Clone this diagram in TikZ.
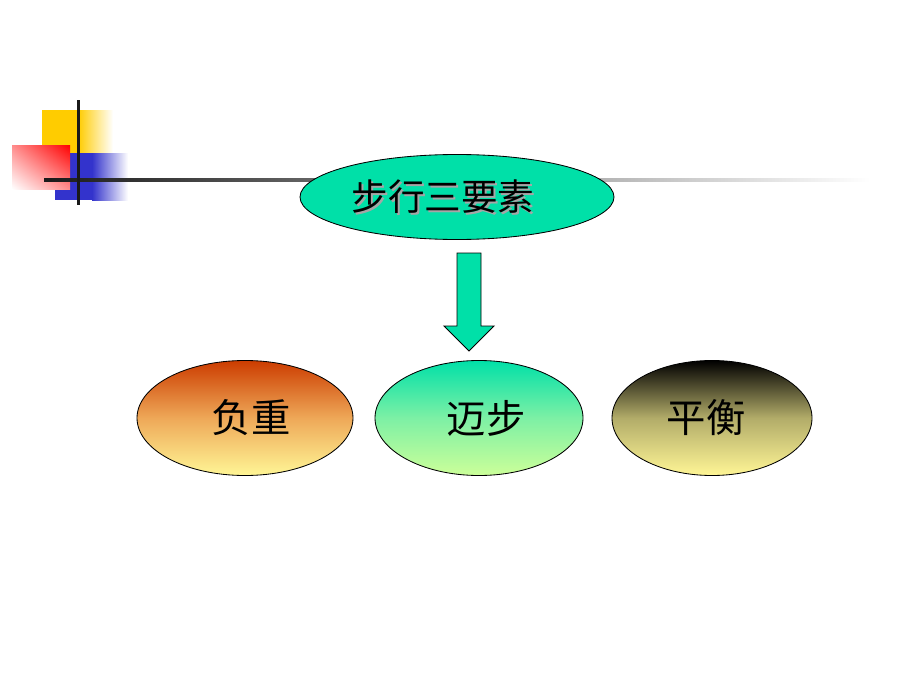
\documentclass[tikz,border=0pt]{standalone}
\usepackage{fontspec}
\usetikzlibrary{positioning}
\usetikzlibrary{shapes.geometric}
\usetikzlibrary{shadings}
\newfontfamily\cjk{Noto Sans CJK SC}
\definecolor{stepgreen}{RGB}{0,224,168}
\definecolor{rust}{RGB}{204,60,0}
\definecolor{paleyellow}{RGB}{255,246,150}
\definecolor{palegreen}{RGB}{204,255,153}
\definecolor{gold}{RGB}{255,204,0}
\definecolor{slateblue}{RGB}{51,51,204}
\tikzset{
	blob/.style={ellipse, draw=black, line width=0.6pt, inner sep=0pt},
	label text/.style={font=\cjk\fontsize{26}{26}\selectfont},
	big text/.style={font=\cjk\fontsize{28}{28}\selectfont},
}

\begin{document}
\begin{tikzpicture}[x=0.025cm, y=-0.025cm]
	\useasboundingbox[fill=white] (0, 0) rectangle (920, 690);
	
	% corner decoration
	\fill[gold] (42, 110) rectangle (78, 153);
	\shade[left color=gold, right color=white] (78, 110) rectangle (113, 153);
	\fill[slateblue] (55, 153) rectangle (92, 200);
	\shade[left color=slateblue, right color=white] (92, 153) rectangle (128, 200);
	\shade[upper right=red, upper left=red!45, lower left=white, lower right=red!45] (12, 145) rectangle (70, 189);
	\shade[left color=black!90, right color=white] (44, 178.5) rectangle (870, 181.5);
	\fill[black!90] (76.5, 100) rectangle (79.5, 205);
	
	\node[blob, fill=stepgreen, minimum width={314*0.025cm}, minimum height={85*0.025cm}] (walking) at (457, 197) {};
	\node[label text, text=black!35] at (445, 199) {步行三要素};
	\node[label text] (title) at (443, 197) {步行三要素};
	
	\node[blob, top color=rust, bottom color=paleyellow, middle color={rgb,255:red,238;green,168;blue,88}, minimum width={216*0.025cm}, minimum height={115*0.025cm}] (load) at (245, 418) {};
	\node[big text] at (251, 418) {负重};
	\node[blob, top color=stepgreen, bottom color=palegreen, middle color={rgb,255:red,125;green,240;blue,165}, minimum width={208*0.025cm}, minimum height={115*0.025cm}] (stride) at (479, 418) {};
	\node[big text] at (486, 418) {迈步};
	\node[blob, top color=black, bottom color=paleyellow, middle color={rgb,255:red,178;green,172;blue,105}, minimum width={200*0.025cm}, minimum height={115*0.025cm}] (balance) at (712, 418) {};
	\node[big text] at (706, 418) {平衡};
	
	\coordinate (tip) at (469, 351);
	\draw[fill=stepgreen, line width=0.6pt] (457, 253) -- (481, 253) -- (481, 326) -- (494, 326) -- (tip) -- (444, 326) -- (457, 326) -- cycle;
\end{tikzpicture}
\end{document}
